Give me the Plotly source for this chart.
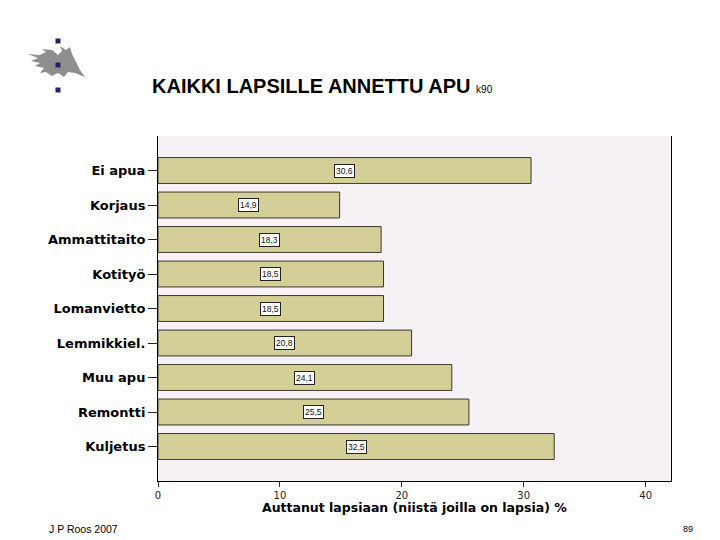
import plotly.graph_objects as go

categories = ["Ei apua", "Korjaus", "Ammattitaito", "Kotityö", "Lomanvietto",
              "Lemmikkiel.", "Muu apu", "Remontti", "Kuljetus"]
values = [30.6, 14.9, 18.3, 18.5, 18.5, 20.8, 24.1, 25.5, 32.5]
value_labels = ["30,6", "14,9", "18,3", "18,5", "18,5", "20,8", "24,1", "25,5", "32,5"]
x_ticks = [0, 10, 20, 30, 40]

# the page body has an 8px margin, so the figure is drawn 8px in from the top-left
OFF = 8
W, H = 720 - OFF, 540 - OFF
L, T = 158 - OFF, 136 - OFF
R = W - (671 - OFF)
B = H - (481 - OFF)
PW, PH = W - L - R, H - T - B


def px(x):
    return (x - OFF - L) / PW


def py(y):
    return (H - B - (y - OFF)) / PH


SANS = "DejaVu Sans, Arial"
ARIAL = "Liberation Sans, Arial"

fig = go.Figure()
fig.add_trace(go.Bar(
    y=categories, x=values, orientation="h", width=0.75,
    marker=dict(color="#D4CF97", line=dict(color="#3a3a30", width=1)),
    hoverinfo="x+y",
))

for c, v, lab in zip(categories, values, value_labels):
    fig.add_annotation(x=v / 2, y=c, xref="x", yref="y", text=lab, showarrow=False,
                       font=dict(family=ARIAL, size=8.5, color="#111"),
                       bgcolor="white", bordercolor="#222", borderwidth=1, borderpad=1)

# Title
fig.add_annotation(x=px(150), y=py(86), xref="paper", yref="paper", xanchor="left", yanchor="middle",
                   showarrow=False,
                   text="<b>KAIKKI LAPSILLE ANNETTU APU</b> <span style='font-size:10px'>k90</span>",
                   font=dict(family=ARIAL, size=20, color="black"))
# X axis title
fig.add_annotation(x=0.5, y=py(507), xref="paper", yref="paper", xanchor="center", yanchor="middle",
                   showarrow=False, text="Auttanut lapsiaan (niistä joilla on lapsia) %",
                   font=dict(family=SANS, size=12.5, color="black", weight="bold"))
# Footer
fig.add_annotation(x=px(47), y=py(529), xref="paper", yref="paper", xanchor="left", yanchor="middle",
                   showarrow=False, text="J P Roos 2007",
                   font=dict(family=ARIAL, size=10.5, color="black"))
fig.add_annotation(x=px(688), y=py(529), xref="paper", yref="paper", xanchor="center", yanchor="middle",
                   showarrow=False, text="89",
                   font=dict(family=ARIAL, size=9, color="black"))

# Logo (decorative)
flame = [(28, 54), (40, 55), (46, 52), (42, 49), (52, 50), (58, 55), (62, 51), (60, 46),
         (66, 50), (70, 47), (72, 54), (76, 62), (80, 70), (85, 77), (75, 73), (68, 72),
         (64, 77), (58, 73), (52, 76), (46, 72), (40, 73), (44, 68), (35, 66), (40, 63),
         (31, 61), (38, 58)]
path = "M " + " L ".join(f"{px(a):.5f},{py(b):.5f}" for a, b in flame) + " Z"
fig.add_shape(type="path", path=path, xref="paper", yref="paper",
              fillcolor="#8e8e8e", line=dict(width=0), layer="above")
for cy in (41, 65, 90):
    fig.add_shape(type="rect", xref="paper", yref="paper",
                  x0=px(55.5), x1=px(60.5), y0=py(cy + 2.5), y1=py(cy - 2.5),
                  fillcolor="#24206a", line=dict(width=0), layer="above")

fig.update_layout(
    width=W, height=H, margin=dict(l=L, r=R, t=T, b=B, pad=0),
    paper_bgcolor="white", plot_bgcolor="#F5F1F5", showlegend=False, bargap=0.25,
    xaxis=dict(range=[0, 42.08], tickvals=x_ticks, ticks="outside", ticklen=5, tickcolor="#333",
               showline=True, linecolor="black", linewidth=1, showgrid=False, zeroline=False,
               tickfont=dict(family=SANS, size=10, color="#222")),
    yaxis=dict(categoryorder="array", categoryarray=categories, range=[9, -1],
               ticks="outside", ticklen=9, tickcolor="#222", showline=True, mirror=True,
               linecolor="black", linewidth=1, showgrid=False, zeroline=False,
               tickfont=dict(family=SANS, size=13, color="black", weight="bold")),
)

fig.write_html("out.html")
